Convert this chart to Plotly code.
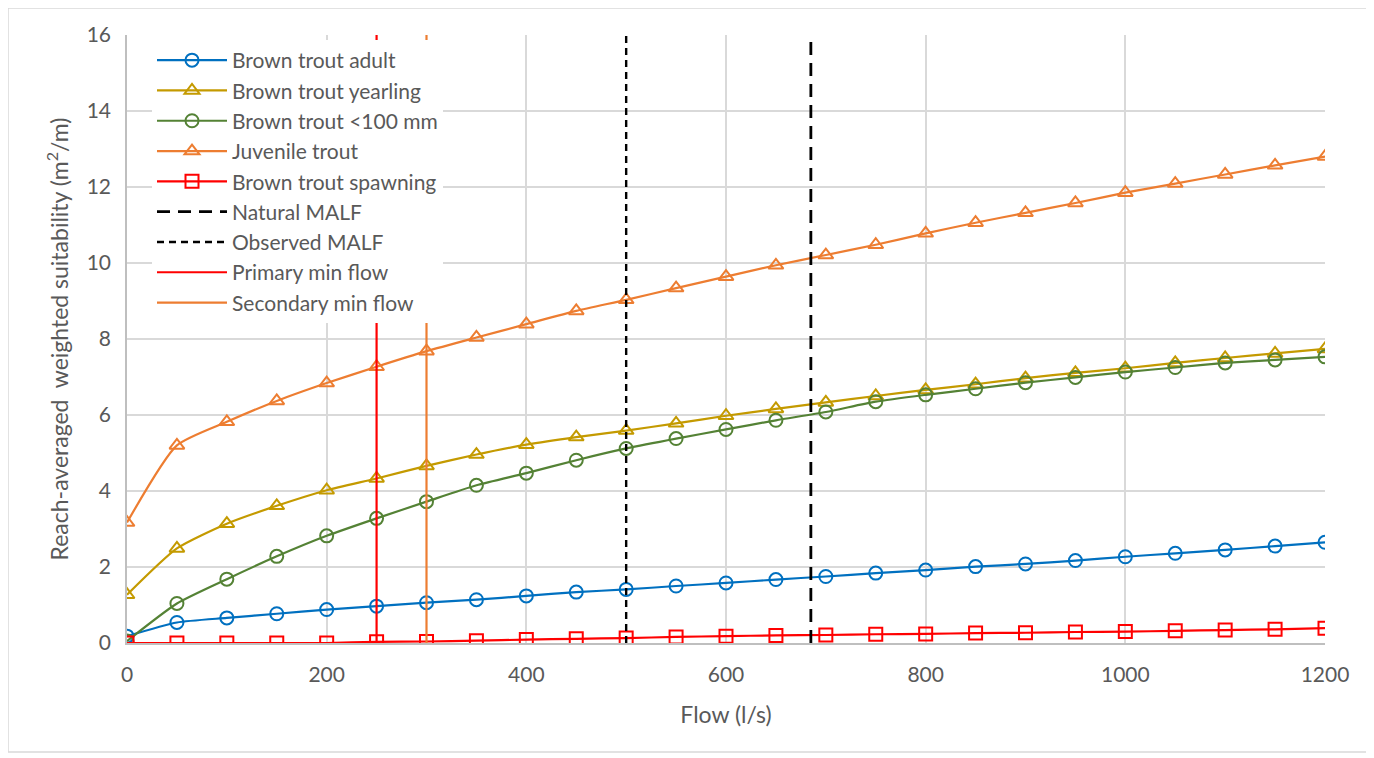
import plotly.graph_objects as go

flow = [0, 50, 100, 150, 200, 250, 300, 350, 400, 450, 500, 550, 600,
        650, 700, 750, 800, 850, 900, 950, 1000, 1050, 1100, 1150, 1200]

bt_adult = [0.18, 0.54, 0.66, 0.77, 0.88, 0.97, 1.06, 1.14, 1.24, 1.34, 1.41, 1.50, 1.58,
            1.67, 1.75, 1.84, 1.92, 2.01, 2.08, 2.17, 2.27, 2.36, 2.45, 2.55, 2.65]
bt_yearling = [1.27, 2.49, 3.14, 3.61, 4.02, 4.33, 4.66, 4.96, 5.22, 5.42, 5.59, 5.78, 5.98,
               6.16, 6.33, 6.50, 6.66, 6.81, 6.97, 7.11, 7.23, 7.37, 7.50, 7.62, 7.74]
bt_small = [0.05, 1.04, 1.68, 2.28, 2.82, 3.28, 3.72, 4.15, 4.47, 4.81, 5.12, 5.38, 5.62,
            5.86, 6.08, 6.35, 6.53, 6.69, 6.85, 6.99, 7.13, 7.25, 7.37, 7.45, 7.53]
juvenile = [3.17, 5.2, 5.82, 6.37, 6.84, 7.27, 7.68, 8.04, 8.39, 8.74, 9.03, 9.34, 9.64,
            9.94, 10.21, 10.48, 10.78, 11.06, 11.32, 11.58, 11.85, 12.09, 12.33, 12.57, 12.8]
spawning = [0.0, 0.0, 0.0, 0.0, 0.0, 0.03, 0.04, 0.06, 0.09, 0.11, 0.13, 0.16, 0.18,
            0.20, 0.21, 0.23, 0.24, 0.26, 0.27, 0.29, 0.30, 0.32, 0.34, 0.36, 0.39]

natural_malf = 685
observed_malf = 500
primary_min = 250
secondary_min = 300
y_span = [0, 16]

x_ticks = [0, 200, 400, 600, 800, 1000, 1200]
y_ticks = [0, 2, 4, 6, 8, 10, 12, 14, 16]

FONT = "Lato, 'Open Sans', sans-serif"
GREY = "#595959"

fig = go.Figure()

series = [
    ("Brown trout adult", bt_adult, "#0070C0", "circle-open"),
    ("Brown trout yearling", bt_yearling, "#C49A00", "triangle-up-open"),
    ("Brown trout <100 mm", bt_small, "#548235", "circle-open"),
    ("Juvenile trout", juvenile, "#ED7D31", "triangle-up-open"),
    ("Brown trout spawning", spawning, "#FF0000", "square-open"),
]

vlines = [
    ("Natural MALF", natural_malf, "black", "13px,8px", 2.8),
    ("Observed MALF", observed_malf, "black", "7px,5px", 2.4),
    ("Primary min flow", primary_min, "#FF0000", "solid", 2.2),
    ("Secondary min flow", secondary_min, "#ED7D31", "solid", 2.2),
]

for name, y, color, sym in series:
    fig.add_trace(go.Scatter(
        x=flow, y=y, name=name, mode="lines+markers",
        line=dict(color=color, width=2.2, shape="spline", smoothing=0.6),
        marker=dict(symbol=sym, size=13, color=color, line=dict(width=2, color=color)),
        legendgroup=name,
    ))

for name, xv, color, dash, w in vlines:
    fig.add_trace(go.Scatter(
        x=[xv, xv], y=y_span, name=name, mode="lines",
        line=dict(color=color, width=w, dash=dash),
        legendgroup=name,
    ))

# page has an 8px body margin; positions below are in page pixels
OFF = 8
W, H = 1366, 750
L, T = 127 - OFF, 35 - OFF
R = W - (1325 - OFF)
B = H - (643 - OFF)
pw, ph = W - L - R, H - T - B

def px_to_paper(px, py):
    return (px - OFF - L) / pw, (H - B - (py - OFF)) / ph

x0, y0 = px_to_paper(8, 752)
x1, y1 = px_to_paper(1369, 8)
fig.add_shape(type="rect", xref="paper", yref="paper", x0=x0, y0=y0, x1=x1, y1=y1,
              line=dict(color="#D9D9D9", width=1.5), fillcolor="rgba(0,0,0,0)", layer="below")

lx, ly = px_to_paper(152, 40)

fig.update_layout(
    width=W, height=H,
    margin=dict(l=L, r=R, t=T, b=B),
    paper_bgcolor="white", plot_bgcolor="white",
    font=dict(family=FONT, color=GREY, size=22),
    showlegend=True,
    legend=dict(
        x=lx, y=ly, xanchor="left", yanchor="top",
        bgcolor="white", borderwidth=0,
        font=dict(family=FONT, size=21, color=GREY),
        tracegroupgap=0, itemwidth=70,
    ),
    xaxis=dict(
        range=[0, 1200], tickvals=x_ticks, showgrid=True, gridcolor="#D9D9D9", gridwidth=1.5,
        showline=True, linecolor="#BFBFBF", linewidth=1.5, zeroline=False,
        ticks="", tickfont=dict(size=21, color=GREY, family=FONT), ticklabelstandoff=12,
        title=dict(text="Flow (l/s)", font=dict(size=23, color=GREY, family=FONT), standoff=22),
    ),
    yaxis=dict(
        range=[0, 16], tickvals=y_ticks, showgrid=True, gridcolor="#D9D9D9", gridwidth=1.5,
        showline=True, linecolor="#BFBFBF", linewidth=1.5, zeroline=False,
        ticks="", tickfont=dict(size=21, color=GREY, family=FONT), ticklabelstandoff=10,
        title=dict(text="Reach-averaged  weighted suitability (m<sup>2</sup>/m)",
                   font=dict(size=23, color=GREY, family=FONT), standoff=12),
    ),
)

fig.write_html("out.html")
